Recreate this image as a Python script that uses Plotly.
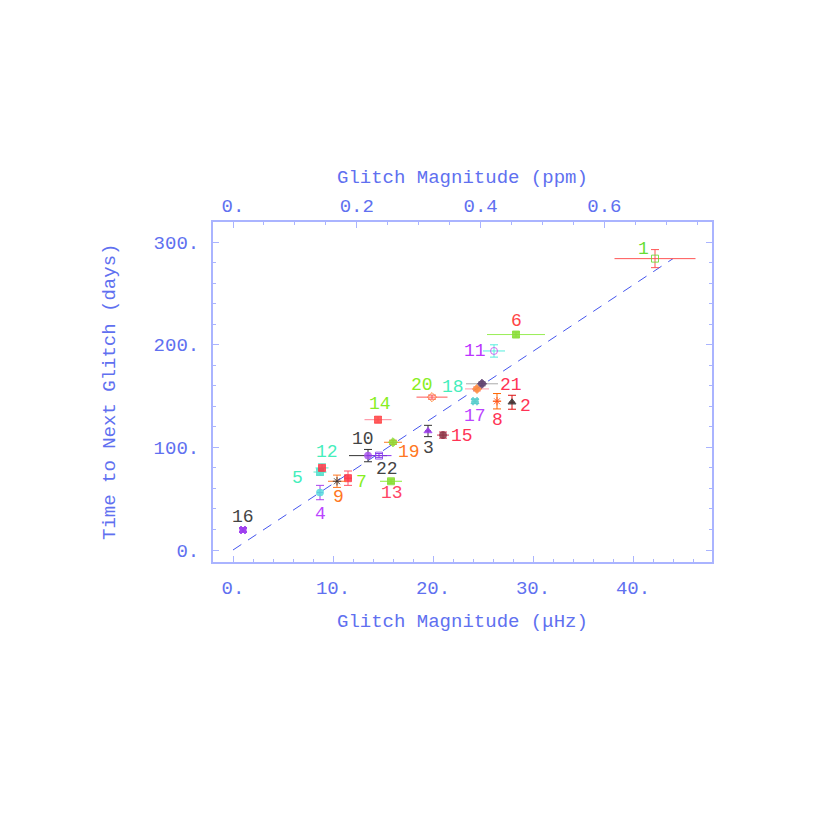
import plotly.graph_objects as go

# ---- data ----
glitch_ids = ["1","2","3","4","5","6","7","8","9","10","11","12","13","14","15","16","17","18","19","20","21","22"]
magnitude_uhz = [42.2, 27.9, 19.5, 8.7, 8.7, 28.3, 11.5, 26.4, 10.4, 13.5, 26.1, 8.9, 15.8, 14.5, 21.0, 1.0, 24.2, 24.4, 16.0, 19.9, 24.9, 14.6]
days_to_next = [284, 144, 116, 56, 76, 210, 70, 145, 67, 92, 194, 80, 67, 127, 112, 19.5, 145, 157, 105, 149, 162, 92]
err_mag = [4.05, 0.3, 0.3, 0.3, 0.65, 2.9, 0.4, 0.4, 0.9, 1.9, 1.1, 0.65, 1.1, 1.35, 0.6, 0.4, 0.4, 1.2, 0.9, 1.55, 1.6, 1.25]
err_days = [8.8, 6.8, 5.5, 7.0, 3.0, 2.5, 7.0, 7.5, 6.0, 6.0, 6.0, 4.0, 2.0, 3.0, 3.0, 2.0, 2.0, 2.0, 2.0, 2.0, 2.0, 2.0]
fit_x = [0.0, 44.0]
fit_y = [0.0, 284.0]
ppm_per_uhz = 1 / 61.9

x_tickvals = [0, 10, 20, 30, 40]
x_ticktext = ["0.", "10.", "20.", "30.", "40."]
y_tickvals = [0, 100, 200, 300]
y_ticktext = ["0.", "100.", "200.", "300."]
top_tickvals = [0, 0.2, 0.4, 0.6]
top_ticktext = ["0.", "0.2", "0.4", "0.6"]

# ---- styles ----
label_colors = ["#66dd33", "#ff3355", "#444444", "#bb44ff", "#44eebb", "#ff4444", "#88ee22",
                "#ff3355", "#ff7722", "#444444", "#bb33ff", "#44eebb", "#ff4466", "#88ee22",
                "#ff3355", "#444444", "#bb44ff", "#44eebb", "#ff7722", "#88ee22", "#ff3355", "#444444"]
marker_colors = ["#66dd33", "#333333", "#9933ee", "#55dddd", "#55ddcc", "#88dd33", "#ff3344",
                 "#ff5522", "#333333", "#aa55ee", "#cc55ee", "#ff3344", "#88dd33", "#ff4444",
                 "#883344", "#9933ee", "#55cccc", "#ff8833", "#88dd33", "#ff7722", "#553366", "#8844ee"]
err_colors = ["#ff5555", "#dd1111", "#333333", "#aa44ee", "#55eecc", "#99ee55", "#ff5566",
              "#ff6600", "#ff7722", "#333333", "#55eedd", "#55eecc", "#88ee33", "#ff8899",
              "#dd3355", "#9933ee", "#55cccc", "#ff99aa", "#ff7722", "#ff5555", "#aaaaaa", "#8833ee"]
symbols = ["square-open", "triangle-up", "triangle-up", "circle", "square", "square-x", "square",
           "asterisk-open", "asterisk-open", "circle", "circle-open", "square", "square", "square",
           "circle", "x", "x", "diamond", "diamond", "diamond-open", "diamond", "square-open"]
label_dx = [-12, 13, 0, 0, -23, 0, 13, 0, 1, -5, -19, 5, 1, 2, 19, 0, 0, -24, 16, -10, 29, 8]
label_dy = [-10, 4, 17, 21, 6, -14, 4, 19, 16, -17, 0, -16, 12, -16, 1, -13, 15, -2, 10, -12, 1, 13]

axis_blue = "#aab4ff"
text_blue = "#6070f0"
font_family = "Liberation Mono"

fig = go.Figure()

fig.add_trace(go.Scatter(x=fit_x, y=fit_y, mode="lines",
                         line=dict(color="#4455ee", width=1, dash="10px,8px"),
                         showlegend=False, hoverinfo="skip"))

for i in range(len(glitch_ids)):
    fig.add_trace(go.Scatter(
        x=[magnitude_uhz[i]], y=[days_to_next[i]], mode="markers",
        marker=dict(symbol=symbols[i], size=7, color=marker_colors[i], opacity=0.85,
                    line=dict(width=1, color=marker_colors[i])),
        error_x=dict(type="data", array=[err_mag[i]], color=err_colors[i], thickness=1, width=0),
        error_y=dict(type="data", array=[err_days[i]], color=err_colors[i], thickness=1, width=4),
        showlegend=False, name=glitch_ids[i]))
    fig.add_annotation(x=magnitude_uhz[i], y=days_to_next[i], xref="x", yref="y",
                       text=glitch_ids[i], showarrow=False,
                       xshift=label_dx[i], yshift=-label_dy[i],
                       font=dict(family=font_family, size=18, color=label_colors[i]))

# invisible trace to activate top axis
fig.add_trace(go.Scatter(x=[0], y=[0], xaxis="x2", yaxis="y", mode="markers",
                         marker=dict(opacity=0), showlegend=False, hoverinfo="skip"))

xr = [-2.0, 47.9]
tickfont = dict(family=font_family, size=19, color=text_blue)

fig.update_layout(
    width=810, height=810,
    margin=dict(l=205, r=106, t=214, b=256),
    paper_bgcolor="white", plot_bgcolor="white",
    xaxis=dict(range=xr, tickvals=x_tickvals, ticktext=x_ticktext, ticks="inside",
               ticklen=6, tickcolor=axis_blue, showline=True, linecolor=axis_blue, linewidth=2,
               mirror=False, showgrid=False, zeroline=False, tickfont=tickfont,
               ticklabelstandoff=7,
               minor=dict(dtick=2, tick0=0, ticks="inside", ticklen=3, tickcolor=axis_blue)),
    xaxis2=dict(range=[xr[0] * ppm_per_uhz, xr[1] * ppm_per_uhz], overlaying="x", side="top",
                tickvals=top_tickvals, ticktext=top_ticktext, ticks="inside", ticklen=6,
                tickcolor=axis_blue, showline=True, linecolor=axis_blue, linewidth=2,
                showgrid=False, zeroline=False, tickfont=tickfont,
                minor=dict(dtick=0.05, tick0=0, ticks="inside", ticklen=3, tickcolor=axis_blue)),
    yaxis=dict(range=[-11.7, 319.7], tickvals=y_tickvals, ticktext=y_ticktext, ticks="inside",
               ticklen=6, tickcolor=axis_blue, showline=True, linecolor=axis_blue, linewidth=2,
               mirror="ticks", showgrid=False, zeroline=False, tickfont=tickfont,
               ticklabelstandoff=8,
               minor=dict(dtick=20, tick0=0, ticks="inside", ticklen=3, tickcolor=axis_blue)),
)

titlefont = dict(family=font_family, size=19, color=text_blue)
fig.add_annotation(text="Glitch Magnitude (μHz)", xref="paper", yref="paper", x=0.5, y=0,
                   yshift=-60, showarrow=False, font=titlefont, yanchor="middle")
fig.add_annotation(text="Glitch Magnitude (ppm)", xref="paper", yref="paper", x=0.5, y=1,
                   yshift=44, showarrow=False, font=titlefont, yanchor="middle")
fig.add_annotation(text="Time to Next Glitch (days)", xref="paper", yref="paper", x=0, y=0.5,
                   xshift=-103, showarrow=False, font=titlefont, textangle=-90, xanchor="center")

fig.write_html("out.html")
